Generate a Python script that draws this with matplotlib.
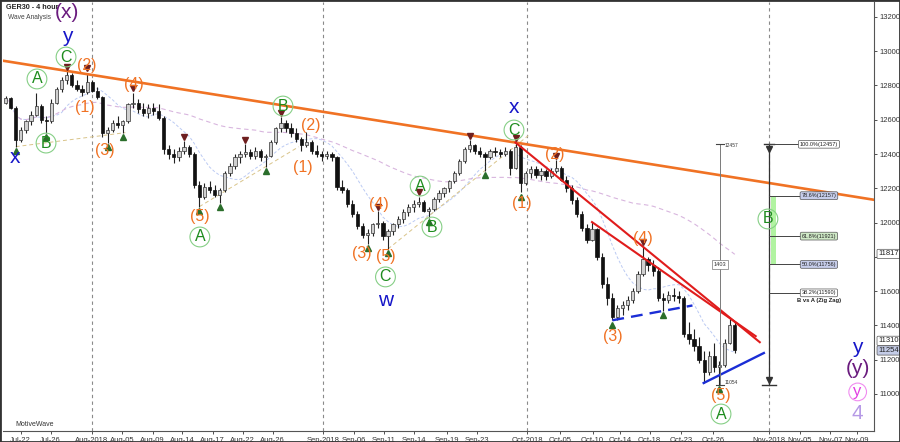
import numpy as np
import pandas as pd
import matplotlib
matplotlib.use("Agg")
import matplotlib.pyplot as plt
from matplotlib.patches import Rectangle

plt.rcParams['font.family'] = ['Liberation Sans', 'DejaVu Sans']

# GER30 4-hour bars (two bars per trading day on the x axis)
opens = [12700, 12725, 12670, 12480, 12540, 12590, 12630, 12680, 12600, 12590, 12700, 12780,
         12830, 12860, 12800, 12780, 12760, 12820, 12770, 12730, 12520, 12540, 12580, 12570,
         12590, 12690, 12700, 12660, 12640, 12670, 12650, 12610, 12430, 12400, 12380, 12420,
         12440, 12400, 12220, 12150, 12210, 12190, 12160, 12190, 12290, 12330, 12380, 12400,
         12410, 12390, 12420, 12380, 12390, 12470, 12550, 12580, 12550, 12520, 12490, 12450,
         12470, 12420, 12400, 12390, 12400, 12380, 12210, 12190, 12110, 12050, 11980, 11930,
         11940, 11990, 12000, 11920, 11950, 11990, 12020, 12060, 12090, 12110, 12120, 12070,
         12080, 12140, 12170, 12200, 12240, 12290, 12360, 12430, 12450, 12420, 12400, 12380,
         12420, 12410, 12400, 12420, 12320, 12440, 12230, 12290, 12310, 12280, 12300, 12270,
         12300, 12320, 12250, 12200, 12130, 12050, 11970, 11900, 11960, 11800, 11640, 11560,
         11450, 11500, 11520, 11550, 11600, 11700, 11790, 11750, 11720, 11560, 11550, 11580,
         11570, 11560, 11350, 11320, 11280, 11200, 11130, 11220, 11160, 11170, 11300, 11400]
highs = [12740, 12735, 12680, 12560, 12600, 12650, 12756, 12690, 12620, 12720, 12790, 12850,
         12885, 12870, 12830, 12800, 12875, 12830, 12790, 12740, 12560, 12600, 12620, 12600,
         12700, 12758, 12720, 12700, 12690, 12700, 12690, 12620, 12450, 12430, 12440, 12476,
         12450, 12410, 12240, 12230, 12240, 12220, 12200, 12300, 12350, 12400, 12420, 12458,
         12430, 12440, 12430, 12400, 12480, 12560, 12614, 12600, 12580, 12550, 12500, 12530,
         12480, 12450, 12420, 12420, 12410, 12390, 12250, 12200, 12130, 12070, 12000, 11960,
         12000, 12068, 12010, 11960, 12000, 12040, 12080, 12110, 12130, 12151, 12130, 12090,
         12150, 12190, 12210, 12250, 12300, 12370, 12440, 12482, 12460, 12440, 12410, 12430,
         12440, 12430, 12440, 12430, 12467, 12450, 12300, 12330, 12330, 12320, 12310, 12320,
         12365, 12330, 12270, 12220, 12150, 12070, 11990, 12003, 11970, 11820, 11680, 11590,
         11520, 11540, 11570, 11620, 11720, 11859, 11800, 11780, 11740, 11590, 11600, 11620,
         11600, 11570, 11420, 11380, 11330, 11250, 11250, 11300, 11190, 11320, 11443, 11420]
lows = [12690, 12660, 12443, 12470, 12520, 12570, 12620, 12580, 12523, 12580, 12690, 12760,
        12810, 12790, 12770, 12740, 12750, 12760, 12720, 12500, 12465, 12530, 12550, 12523,
        12580, 12670, 12640, 12620, 12610, 12630, 12600, 12400, 12370, 12350, 12360, 12400,
        12380, 12200, 12093, 12140, 12170, 12150, 12114, 12180, 12270, 12310, 12350, 12380,
        12370, 12370, 12360, 12326, 12380, 12460, 12530, 12530, 12500, 12470, 12420, 12440,
        12400, 12380, 12360, 12370, 12360, 12190, 12170, 12090, 12030, 11960, 11910, 11875,
        11920, 11970, 11900, 11846, 11930, 11970, 12000, 12040, 12060, 12090, 12060, 12027,
        12070, 12120, 12150, 12180, 12230, 12280, 12350, 12410, 12400, 12380, 12303, 12370,
        12390, 12380, 12390, 12277, 12310, 12177, 12220, 12260, 12260, 12250, 12250, 12260,
        12290, 12240, 12180, 12110, 12030, 11950, 11880, 11890, 11780, 11620, 11520, 11430,
        11430, 11460, 11490, 11530, 11590, 11690, 11720, 11690, 11540, 11485, 11530, 11540,
        11530, 11330, 11290, 11250, 11180, 11064, 11110, 11130, 11054, 11160, 11290, 11240]
closes = [12725, 12670, 12480, 12540, 12590, 12630, 12680, 12600, 12590, 12700, 12780, 12830,
          12860, 12800, 12780, 12760, 12820, 12770, 12730, 12520, 12540, 12580, 12570, 12590,
          12690, 12700, 12660, 12640, 12670, 12650, 12610, 12430, 12400, 12380, 12420, 12440,
          12400, 12220, 12150, 12210, 12190, 12160, 12190, 12290, 12330, 12380, 12400, 12410,
          12390, 12420, 12380, 12390, 12470, 12550, 12580, 12550, 12520, 12490, 12450, 12470,
          12420, 12400, 12390, 12400, 12380, 12210, 12190, 12110, 12050, 11980, 11930, 11940,
          11990, 12000, 11920, 11950, 11990, 12020, 12060, 12090, 12110, 12120, 12070, 12080,
          12140, 12170, 12200, 12240, 12290, 12360, 12430, 12450, 12420, 12400, 12380, 12420,
          12410, 12400, 12420, 12320, 12440, 12230, 12290, 12310, 12280, 12300, 12270, 12300,
          12320, 12250, 12200, 12130, 12050, 11970, 11900, 11960, 11800, 11640, 11560, 11450,
          11500, 11520, 11550, 11600, 11700, 11790, 11750, 11720, 11560, 11550, 11580, 11570,
          11560, 11350, 11320, 11280, 11200, 11130, 11220, 11160, 11170, 11300, 11400, 11254]

# x axis is in trading days; date labels as printed on the chart
tick_days = [1.74, 4.68, 8.70, 11.70, 14.68, 17.58, 20.56, 23.50, 26.44, 31.40, 34.38, 37.35,
             40.32, 43.53, 46.50, 51.40, 54.60, 57.80, 60.50, 63.40, 66.50, 69.60, 75.07,
             78.10, 81.10, 83.70]
tick_labels = ['Jul-22', 'Jul-26', 'Aug-2018', 'Aug-05', 'Aug-09', 'Aug-14', 'Aug-17', 'Aug-22',
               'Aug-26', 'Sep-2018', 'Sep-06', 'Sep-11', 'Sep-14', 'Sep-19', 'Sep-23',
               'Oct-2018', 'Oct-05', 'Oct-10', 'Oct-14', 'Oct-18', 'Oct-23', 'Oct-26',
               'Nov-2018', 'Nov-05', 'Nov-07', 'Nov-09']
month_days = [8.70, 31.40, 51.40, 75.07]

price_ticks = [11000, 11200, 11400, 11600, 11800, 12000, 12200, 12400, 12600, 12800, 13000, 13200]
# 11800 sits under the current-price box on the chart
price_tick_labels = ['11000', '11200', '11400', '11600', '', '12000', '12200', '12400',
                     '12600', '12800', '13000', '13200']
price_marks = [11817, 11310, 11254]
price_mark_colors = ['white', 'white', '#c3cbe6']

# swing pivots marked with triangles (bar indices)
pivot_lows = [2, 8, 20, 23, 38, 42, 51, 71, 75, 83, 94, 101, 119, 129, 140]
pivot_highs = [12, 16, 25, 35, 47, 54, 73, 81, 91, 100, 108, 125]

# Fibonacci retracement of wave A (B vs A zig zag)
fib_names = ['100.0%', '78.6%', '61.8%', '50.0%', '38.2%']
fib_values = [12457, 12157, 11921, 11756, 11590]
fib_colors = ['white', '#c6cdea', '#cfe9c6', '#c6cdea', 'white']
wave_a_top = 12457
wave_a_bottom = 11054
wave_a_size = 1403

# wave labels: (day, price, text)
orange_labels = [(8.24, 12919, '(2)'), (8.04, 12669, '(1)'), (12.84, 12803, '(4)'),
                 (10.0, 12418, '(3)'), (19.3, 12038, '(5)'), (30.2, 12569, '(2)'),
                 (29.4, 12324, '(1)'), (36.9, 12103, '(4)'), (35.2, 11817, '(3)'),
                 (37.5, 11805, '(5)'), (54.1, 12400, '(2)'), (50.9, 12114, '(1)'),
                 (62.75, 11910, '(4)'), (59.8, 11333, '(3)'), (70.4, 10994, '(5)')]
circled_labels = [(6.18, 12966, 'C'), (3.33, 12838, 'A'), (4.22, 12464, 'B'),
                  (27.45, 12680, 'B'), (19.3, 11916, 'A'), (40.9, 12213, 'A'),
                  (42.06, 11974, 'B'), (37.5, 11683, 'C'), (50.1, 12540, 'C'),
                  (70.4, 10883, 'A'), (75.0, 12021, 'B')]
blue_labels = [(6.27, 13083, 'y'), (1.18, 12377, 'x'), (37.5, 11543, 'w'),
               (50.1, 12674, 'x'), (83.8, 11274, 'y')]
purple_labels = [(6.27, 13223, '(x)'), (83.8, 11146, '(y)')]

# hand drawn trend lines: (start day, start price, end day, end price)
blue_wedge = (68.7, 11064, 74.6, 11239)

ORANGE = '#f07224'
GREEN = '#1e8c1e'

o = np.array(opens)
h = np.array(highs)
l = np.array(lows)
c = np.array(closes)
x = 0.25 + 0.5 * np.arange(len(c))


def extend(i0, y0, i1, y1, d_start, d_end):
    # straight line through two bars, stretched to the given days
    x0, x1 = x[i0], x[i1]
    k = (y1 - y0) / (x1 - x0)
    return [d_start, d_end], [y0 + k * (d_start - x0), y0 + k * (d_end - x0)]


fig = plt.figure(figsize=(9, 4.42), dpi=100)
ax = fig.add_axes([3 / 900, 11 / 442, 871 / 900, 429 / 442])
ax.set_xlim(0, 85.4)
ax.set_ylim(10784, 13287)

for d in month_days:
    ax.axvline(d, color='#8a8a8a', lw=0.8, ls=(0, (3, 3)), zorder=1)

# moving averages
ma_fast = pd.Series(c).rolling(10, min_periods=1).mean()
ma_slow = pd.Series(c).rolling(50, min_periods=1).mean()
ax.plot(x, ma_fast, color='#aabdf0', lw=0.7, ls=(0, (3, 2)), alpha=0.8, zorder=1.5)
ax.plot(x, ma_slow, color='#d4aedb', lw=0.8, ls=(0, (4, 3)), alpha=0.9, zorder=1.5)

# wave channel guides
for a, b, d_end in [(38, 51, 29.0), (75, 94, 51.5), (2, 23, 12.0)]:
    xs, ys = extend(a, l[a], b, l[b], x[a], d_end)
    ax.plot(xs, ys, color='#d9c48a', lw=0.7, ls=(0, (4, 3)), zorder=1.5)

# candles
up = c >= o
ax.vlines(x, l, h, color='#222222', lw=0.8, zorder=2)
ax.bar(x[up], (c - o)[up], bottom=o[up], width=0.32, color='#d0d0d0',
       edgecolor='#333333', lw=0.5, zorder=2.5)
ax.bar(x[~up], (o - c)[~up], bottom=c[~up], width=0.32, color='#111111',
       edgecolor='#111111', lw=0.5, zorder=2.5)

ax.plot(x[pivot_lows], l[pivot_lows] - 25, ls='none', marker='^', ms=4.5,
        color='#2b6e2b', zorder=4)
ax.plot(x[pivot_highs], h[pivot_highs] + 25, ls='none', marker='v', ms=4.5,
        color='#6e1f1f', zorder=4)

# trend lines
xs, ys = extend(12, h[12], 100, h[100], 0, 85.4)
ax.plot(xs, ys, color=ORANGE, lw=1.9, zorder=3)
xs, ys = extend(100, h[100], 125, h[125], x[100], 74.2)
ax.plot(xs, ys, color='#e01c1c', lw=1.5, zorder=3)
xs, ys = extend(115, h[115], 142, h[142], x[115], 73.8)
ax.plot(xs, ys, color='#e01c1c', lw=1.5, zorder=3)
xs, ys = extend(119, l[119], 129, l[129], x[119], 67.6)
ax.plot(xs, ys, color='#1b2ed6', lw=1.7, ls=(0, (5, 3)), zorder=3)
ax.plot(blue_wedge[::2], blue_wedge[1::2], color='#1b2ed6', lw=1.7, zorder=3)

# wave A measurement
mx = 70.3
ax.plot([mx, mx], [wave_a_bottom, wave_a_top], color='#7a7a7a', lw=0.7, zorder=3)
ax.plot([mx - 0.35, mx + 0.35], [wave_a_top, wave_a_top], color='#444', lw=0.8, zorder=3)
ax.plot([mx - 0.35, mx + 0.35], [wave_a_bottom, wave_a_bottom], color='#444', lw=0.8, zorder=3)
ax.text(mx + 0.5, wave_a_top - 10, str(wave_a_top), fontsize=3.5, color='#333', va='center')
ax.text(mx + 0.5, wave_a_bottom + 15, str(wave_a_bottom), fontsize=3.5, color='#333', va='center')
ax.text(mx, (wave_a_top + wave_a_bottom) / 2, str(wave_a_size), fontsize=4, color='#333',
        ha='center', va='center', zorder=4,
        bbox=dict(boxstyle='square,pad=0.3', fc='white', ec='#777', lw=0.5))

# Fibonacci retracement
fx = month_days[-1]
ax.plot([fx, fx], [wave_a_bottom, wave_a_top], color='#333333', lw=0.9, zorder=3)
ax.plot([fx - 0.7, fx + 0.7], [wave_a_bottom, wave_a_bottom], color='#333', lw=1.0, zorder=3)
ax.plot([fx - 0.5, fx + 0.5], [wave_a_top, wave_a_top], color='#333', lw=1.0, zorder=3)
ax.plot([fx], [wave_a_bottom + 30], marker='v', ms=4, color='#333', zorder=3)
ax.plot([fx], [wave_a_top - 30], marker='v', ms=4, color='#333', zorder=3)
ax.add_patch(Rectangle((fx + 0.2, fib_values[3]), 0.5, fib_values[1] - fib_values[3],
                       color='#9ef08a', alpha=0.8, lw=0, zorder=2))
for name, val, fc in zip(fib_names, fib_values, fib_colors):
    ax.plot([fx, 78.3], [val, val], color='#444', lw=0.7, zorder=3)
    ax.text(80.0, val, f'{name}({val})', fontsize=4, color='#222', ha='center', va='center',
            zorder=4, bbox=dict(boxstyle='round,pad=0.25', fc=fc, ec='#555', lw=0.5))
ax.text(80.0, 11548, 'B vs A (Zig Zag)', fontsize=4.2, fontweight='bold', color='#222',
        ha='center', va='center')

# wave labels
for d, p, s in orange_labels:
    ax.text(d, p, s, color=ORANGE, fontsize=11.5, ha='center', va='center', zorder=5)
for d, p, s in circled_labels:
    ax.text(d, p, s, color=GREEN, fontsize=11.5, ha='center', va='center', zorder=5,
            bbox=dict(boxstyle='circle,pad=0.15', fc='none', ec='#86cf86', lw=0.8))
for d, p, s in blue_labels:
    ax.text(d, p, s, color='#1616c8', fontsize=15, ha='center', va='center', zorder=5)
for d, p, s in purple_labels:
    ax.text(d, p, s, color='#6a1b7e', fontsize=15, ha='center', va='center', zorder=5)
ax.text(83.8, 11012, 'y', color='#e23ee2', fontsize=12, ha='center', va='center', zorder=5,
        bbox=dict(boxstyle='circle,pad=0.08', fc='none', ec='#f08cf0', lw=0.8))
ax.text(83.8, 10889, '4', color='#b69ae6', fontsize=15, ha='center', va='center', zorder=5)

# axes styling
ax.yaxis.tick_right()
ax.set_yticks(price_ticks)
ax.set_yticklabels(price_tick_labels)
ax.set_xticks(tick_days)
ax.set_xticklabels(tick_labels)
ax.tick_params(axis='both', labelsize=5.5, colors='#333333', length=2.5, width=0.6, pad=1.5)
for side in ['left', 'top']:
    ax.spines[side].set_visible(False)
for side in ['right', 'bottom']:
    ax.spines[side].set_color('#555555')
    ax.spines[side].set_linewidth(0.8)

for val, fc in zip(price_marks, price_mark_colors):
    ax.annotate(str(val), xy=(1, val), xycoords=('axes fraction', 'data'), xytext=(3, 0),
                textcoords='offset points', fontsize=5.5, color='#222', ha='left', va='center',
                bbox=dict(boxstyle='round,pad=0.15', fc=fc, ec='#555', lw=0.5))

ax.text(0.0035, 0.988, 'GER30 - 4 hour', transform=ax.transAxes, fontsize=5.2,
        fontweight='bold', color='#222', va='center')
ax.text(0.0058, 0.965, 'Wave Analysis', transform=ax.transAxes, fontsize=4.8,
        color='#444', va='center')
ax.text(0.014, 0.015, 'MotiveWave', transform=ax.transAxes, fontsize=5,
        color='#333', va='center')

fig.add_artist(Rectangle((0, 0), 1, 1, transform=fig.transFigure, fill=False,
                         ec='#333333', lw=2))

fig.savefig('out.png', dpi=100)
